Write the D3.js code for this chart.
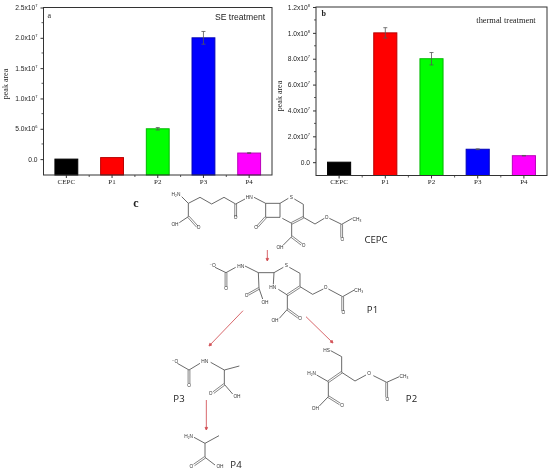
<!DOCTYPE html>
<html><head><meta charset="utf-8">
<script src="https://cdnjs.cloudflare.com/ajax/libs/d3/7.8.5/d3.min.js"></script>
<style>html,body{margin:0;padding:0;background:#fff}svg{display:block;filter:blur(0.4px)}</style>
</head><body><svg id="c" width="550" height="473"></svg>
<script>
// ---- chart data ----
const categories = ["CEPC","P1","P2","P3","P4"];
const barColors = ["#000000","#ff0000","#00ff00","#0000ff","#ff00ff"];
const seValues = [0, 250000, 5000000, 20000000, 1000000];
const seErrors = [0, 0, 200000, 1050000, 50000];
const seTicks = [0, 5e6, 1e7, 1.5e7, 2e7, 2.5e7];
const seTickLabels = ["0.0","5.0x10^6","1.0x10^7","1.5x10^7","2.0x10^7","2.5x10^7"];
const thermalValues = [0, 100000000, 80000000, 10000000, 5000000];
const thermalErrors = [0, 4000000, 4800000, 300000, 200000];
const thermalTicks = [0, 2e7, 4e7, 6e7, 8e7, 1e8, 1.2e8];
const thermalTickLabels = ["0.0","2.0x10^7","4.0x10^7","6.0x10^7","8.0x10^7","1.0x10^8","1.2x10^8"];

const svg = d3.select("#c");
const AXC = "#333";
const SERIF = "'Liberation Serif','DejaVu Serif',serif";
const SANS = "'Liberation Sans','DejaVu Sans',sans-serif";

function panel(o){
  const x = d3.scaleBand().domain(categories).range([o.left,o.right]).paddingInner(0.5).paddingOuter(0.25);
  const y = d3.scaleLinear().domain(o.domain).range([o.bottom,o.top]);
  const g = svg.append("g");
  // bars
  g.selectAll("rect.bar").data(categories).join("rect").attr("class","bar")
    .attr("x",d=>x(d)).attr("width",x.bandwidth())
    .attr("y",(d,i)=>y(o.values[i])).attr("height",(d,i)=>o.bottom-y(o.values[i]))
    .attr("fill",(d,i)=>barColors[i])
    .attr("stroke",(d,i)=>d3.color(barColors[i]).darker(0.9)).attr("stroke-width",1);
  // error bars
  const errs = categories.map((c,i)=>({c,v:o.values[i],e:o.errors[i]})).filter(d=>d.e>0);
  const eg = g.selectAll("g.err").data(errs).join("g").attr("class","err")
    .attr("stroke","#555").attr("stroke-width",0.8).attr("fill","none");
  eg.append("line").attr("x1",d=>x(d.c)+x.bandwidth()/2).attr("x2",d=>x(d.c)+x.bandwidth()/2)
    .attr("y1",d=>y(d.v-d.e)).attr("y2",d=>y(d.v+d.e));
  [1,-1].forEach(s=>eg.append("line")
    .attr("x1",d=>x(d.c)+x.bandwidth()/2-2).attr("x2",d=>x(d.c)+x.bandwidth()/2+2)
    .attr("y1",d=>y(d.v+s*d.e)).attr("y2",d=>y(d.v+s*d.e)));
  // frame
  g.append("rect").attr("x",o.left).attr("y",o.top).attr("width",o.right-o.left).attr("height",o.bottom-o.top)
    .attr("fill","none").attr("stroke",AXC).attr("stroke-width",1);
  // y axis
  const ya = g.append("g").attr("transform",`translate(${o.left},0)`)
    .call(d3.axisLeft(y).tickValues(o.ticks).tickSize(3).tickPadding(3).tickFormat((d,i)=>o.labels[i]));
  ya.select(".domain").remove();
  ya.selectAll("line").attr("stroke",AXC);
  ya.selectAll("text").attr("font-family",SANS).attr("font-size",6.7).attr("fill","#222")
    .each(function(){
      const t = d3.select(this), p = t.text().split("^");
      t.text(p[0]);
      if(p[1]) t.append("tspan").attr("dy",-3).attr("font-size",4).text(p[1]);
    });
  // minor y ticks
  const mids = o.ticks.slice(0,-1).map((t,i)=>(t+o.ticks[i+1])/2);
  g.selectAll("line.my").data(mids).join("line").attr("class","my")
    .attr("x1",o.left-2).attr("x2",o.left).attr("y1",d=>y(d)).attr("y2",d=>y(d)).attr("stroke",AXC).attr("stroke-width",0.8);
  // x axis
  const xa = g.append("g").attr("transform",`translate(0,${o.bottom})`)
    .call(d3.axisBottom(x).tickSize(3).tickPadding(1));
  xa.select(".domain").remove();
  xa.selectAll("line").attr("stroke",AXC);
  xa.selectAll("text").attr("font-family",SERIF).attr("font-size",7).attr("fill","#222");
  // minor x ticks
  const step = x.step();
  g.selectAll("line.mx").data(categories.slice(0,-1)).join("line").attr("class","mx")
    .attr("x1",d=>x(d)+x.bandwidth()/2+step/2).attr("x2",d=>x(d)+x.bandwidth()/2+step/2)
    .attr("y1",o.bottom).attr("y2",o.bottom+2).attr("stroke",AXC).attr("stroke-width",0.8);
  // titles
  g.append("text").attr("transform",`translate(${o.ylx},${o.yly}) rotate(-90)`).attr("text-anchor","middle")
    .attr("font-family",SERIF).attr("font-size",8).attr("fill","#222").text("peak area");
  g.append("text").attr("x",o.px).attr("y",o.py).attr("font-family",SERIF).attr("font-size",o.pfs).attr("font-weight",o.pfw)
    .attr("fill","#222").text(o.panel);
  g.append("text").attr("x",o.tx).attr("y",o.ty).attr("text-anchor","middle").attr("font-family",o.tfont)
    .attr("font-size",o.tfs).attr("fill","#222").text(o.title);
}

panel({left:43.5,right:272,top:7.5,bottom:175,domain:[-2620000,25000000],values:seValues,errors:seErrors,
  ticks:seTicks,labels:seTickLabels,ylx:8,yly:84,panel:"a",px:47.5,py:18,pfs:8,pfw:"normal",
  title:"SE treatment",tx:240,ty:20,tfont:SANS,tfs:8.6});
panel({left:316,right:547,top:7,bottom:175.5,domain:[-10300000,120000000],values:thermalValues,errors:thermalErrors,
  ticks:thermalTicks,labels:thermalTickLabels,ylx:282,yly:96,panel:"b",px:321.5,py:16,pfs:8,pfw:"bold",
  title:"thermal treatment",tx:506,ty:23,tfont:SERIF,tfs:8.4});

// ---- reaction scheme (bonds, in two crop spaces) ----
const upperX = d3.scaleLinear().domain([0,900]).range([120,420]);
const upperY = d3.scaleLinear().domain([0,450]).range([185,335]);
const lowerX = d3.scaleLinear().domain([0,960]).range([120,440]);
const lowerY = d3.scaleLinear().domain([0,459]).range([320,473]);

const upperBonds = [
 [185,35,205,55],[205,55,240,37],[240,37,275,57],[275,57,312,37],[312,37,347,57],[347,57,375,42],[402,37,437,55],
 [437,55,480,55],[480,55,480,97],[480,97,437,97],[437,97,437,55],[480,55,505,40],[523,42,550,58],[550,58,550,97],
 [515,115,487,100],[550,97,585,117],[585,117,613,100],[628,100,665,118],[665,118,697,100],[515,115,515,155],[515,155,490,180],
 [205,55,205,95],[205,95,178,113],
 [285,247,318,263],[318,263,347,247],[375,243,415,263],[415,263,462,263],[462,263,490,247],[508,247,540,265],[540,265,540,305],
 [502,330,475,313],[462,263,460,298],[415,263,417,310],[417,310,428,342],[540,305,578,328],[578,328,610,312],[625,312,668,335],
 [668,335,703,315],[502,330,502,373],[502,373,478,400]];
const upperDoubles = [
 [347,57,347,95],[437,97,412,125],[550,97,515,115],[665,118,665,158],[515,155,545,178],[205,95,232,125],
 [318,263,318,305],[540,305,502,330],[417,310,385,328],[668,335,668,378],[502,373,535,397]];
const upperAtoms = [
 ["H₂N",168,28],["HN",388,37],["S",514,37],["O",620,97],["O",408,127],["O",667,164],["CH₃",711,102],["O",551,180],["OH",480,186],["OH",165,117],["O",236,127],["O",347,97],
 ["⁻O",278,242],["HN",362,243],["O",318,310],["S",499,242],["HN",458,308],["O",380,332],["OH",435,352],["O",617,308],["O",670,382],["CH₃",716,316],["O",540,400],["OH",465,407]];
const lowerBonds = [
 [172,130,207,150],[207,150,240,130],[272,127,313,150],[313,150,358,138],[313,150,313,193],[313,193,338,222],
 [222,352,255,370],[255,370,297,347],[255,370,255,412],[255,412,285,435],
 [632,92,665,110],[665,110,665,157],[665,157,705,183],[705,183,738,165],[760,167,800,187],[800,187,838,170],
 [590,165,625,185],[625,185,625,230],[625,230,598,258]];
const lowerDoubles = [[207,150,207,190],[313,193,280,218],[255,412,222,435],[665,157,625,185],[800,187,800,232],[625,230,660,252]];
const lowerAtoms = [
 ["⁻O",165,125],["O",207,196],["HN",254,125],["O",272,220],["OH",351,229],
 ["H₂N",206,348],["O",214,438],["OH",300,438],
 ["HS",620,90],["O",747,161],["O",802,238],["CH₃",852,169],["H₂N",575,161],["O",666,255],["OH",586,264]];
const upperArrows = [[442,195,442,228]];
const lowerArrows = [[259,240,259,330]];
const crossArrows = [[243,310.7,209,346],[306,316.7,333,343]];
const compoundLabels = [["CEPC",376,240],["P1",372.5,310],["P3",179,399],["P2",411.5,399],["P4",236,465]];

const scheme = svg.append("g");
const link = d3.line();
function drawBonds(list,sx,sy){
  scheme.append("g").selectAll("path").data(list).join("path")
    .attr("d",b=>link([[sx(b[0]),sy(b[1])],[sx(b[2]),sy(b[3])]]))
    .attr("stroke","#444").attr("stroke-width",0.8).attr("fill","none");
}
function drawDoubles(list,sx,sy){
  scheme.append("g").selectAll("path").data(list).join("path")
    .attr("d",b=>{
      const x1=sx(b[0]),y1=sy(b[1]),x2=sx(b[2]),y2=sy(b[3]),l=Math.hypot(x2-x1,y2-y1),nx=-(y2-y1)/l*0.9,ny=(x2-x1)/l*0.9;
      return link([[x1+nx,y1+ny],[x2+nx,y2+ny]])+link([[x1-nx,y1-ny],[x2-nx,y2-ny]]);
    }).attr("stroke","#444").attr("stroke-width",0.65).attr("fill","none");
}
function drawAtoms(list,sx,sy){
  scheme.append("g").selectAll("text").data(list).join("text")
    .attr("x",a=>sx(a[1])).attr("y",a=>sy(a[2])).attr("dy","0.35em").attr("text-anchor","middle")
    .attr("font-family",SANS).attr("font-size",4.8).attr("fill","#333").text(a=>a[0]);
}
function drawArrows(list,sx,sy){
  const g = scheme.append("g");
  g.selectAll("path").data(list).join("path")
    .attr("d",b=>{
      const x1=sx(b[0]),y1=sy(b[1]),x2=sx(b[2]),y2=sy(b[3]),l=Math.hypot(x2-x1,y2-y1),ux=(x2-x1)/l,uy=(y2-y1)/l;
      return link([[x1,y1],[x2,y2]])+link([[x2,y2],[x2-ux*2.6-uy*1.3,y2-uy*2.6+ux*1.3],[x2-ux*2.6+uy*1.3,y2-uy*2.6-ux*1.3]])+"Z";
    }).attr("stroke","#d4575b").attr("stroke-width",0.9).attr("fill","#c8202a");
}
const id = d3.scaleIdentity();
drawBonds(upperBonds,upperX,upperY); drawDoubles(upperDoubles,upperX,upperY); drawAtoms(upperAtoms,upperX,upperY);
drawBonds(lowerBonds,lowerX,lowerY); drawDoubles(lowerDoubles,lowerX,lowerY); drawAtoms(lowerAtoms,lowerX,lowerY);
drawArrows(upperArrows,upperX,upperY); drawArrows(lowerArrows,lowerX,lowerY); drawArrows(crossArrows,id,id);

scheme.append("g").selectAll("text").data(compoundLabels).join("text")
  .attr("x",d=>d[1]).attr("y",d=>d[2]).attr("dy","0.35em").attr("text-anchor","middle")
  .attr("font-family","'Open Sans','DejaVu Sans',sans-serif").attr("font-size",9.6).attr("fill","#222").text(d=>d[0]);
scheme.append("text").attr("x",136).attr("y",203).attr("dy","0.35em").attr("text-anchor","middle")
  .attr("font-family",SERIF).attr("font-size",12).attr("font-weight","bold").attr("fill","#222").text("c");
</script></body></html>
